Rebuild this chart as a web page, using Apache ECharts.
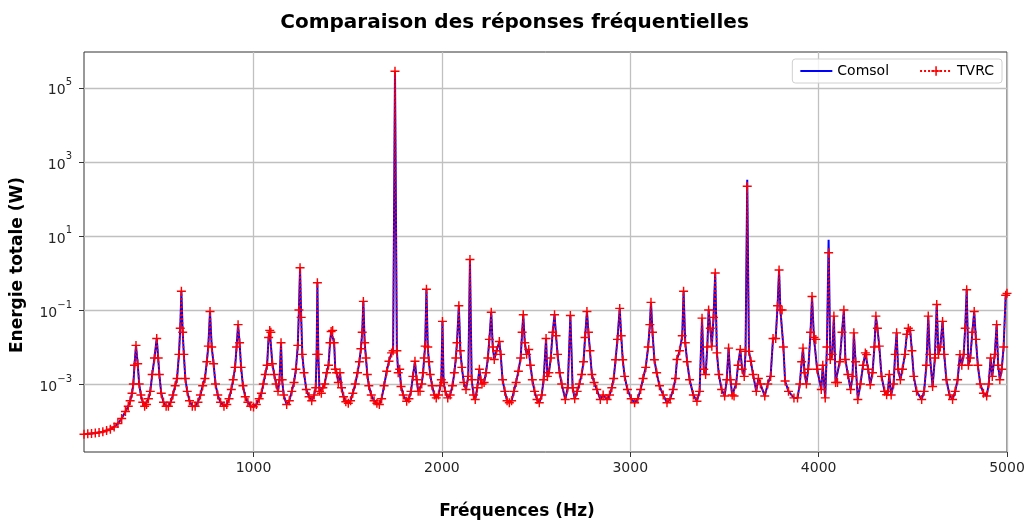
<!doctype html>
<html lang="fr">
<head>
<meta charset="UTF-8">
<title>Comparaison des réponses fréquentielles</title>
<script src="https://cdn.jsdelivr.net/npm/echarts@6/dist/echarts.min.js"></script>
<style>
    html, body { margin: 0; padding: 0; background: #fff; }
    #main { width: 1029px; height: 522px; }
</style>
</head>
<body>
<div id="main"></div>
<script>
    // frequencies (Hz)
    var freqs = [
        100, 120, 140, 160, 180, 200, 220, 240, 260, 280, 300, 320, 335, 345, 355, 362, 368, 376, 385, 393,
        402, 412, 422, 432, 442, 452, 462, 474, 486, 494, 500, 510, 522, 536, 548, 560, 572, 584, 594, 604,
        611, 617, 624, 630, 638, 648, 660, 675, 690, 705, 718, 730, 742, 752, 760, 769, 778, 788, 798, 810,
        825, 843, 858, 870, 882, 892, 902, 910, 918, 926, 934, 944, 956, 970, 985, 1000, 1015, 1030, 1042, 1052,
        1062, 1072, 1080, 1086, 1092, 1100, 1110, 1120, 1130, 1138, 1146, 1152, 1160, 1176, 1190, 1203, 1215, 1225, 1235, 1241,
        1247, 1253, 1259, 1268, 1280, 1295, 1309, 1322, 1330, 1335, 1339, 1344, 1350, 1360, 1368, 1378, 1388, 1398, 1406, 1412,
        1420, 1428, 1434, 1441, 1450, 1459, 1467, 1478, 1490, 1503, 1515, 1527, 1540, 1552, 1562, 1570, 1577, 1583, 1590, 1597,
        1604, 1612, 1625, 1640, 1655, 1668, 1680, 1693, 1707, 1719, 1733, 1741, 1751, 1761, 1768, 1776, 1783, 1795, 1813, 1825,
        1836, 1846, 1857, 1866, 1874, 1884, 1893, 1900, 1906, 1911, 1918, 1925, 1931, 1938, 1948, 1960, 1970, 1982, 1992, 1997,
        2003, 2009, 2018, 2031, 2044, 2056, 2066, 2074, 2080, 2090, 2098, 2106, 2116, 2128, 2140, 2149, 2158, 2168, 2177, 2188,
        2199, 2206, 2213, 2224, 2234, 2244, 2252, 2262, 2270, 2278, 2290, 2305, 2312, 2322, 2334, 2346, 2358, 2370, 2382, 2394,
        2406, 2418, 2426, 2432, 2440, 2450, 2461, 2470, 2480, 2492, 2505, 2517, 2530, 2540, 2553, 2560, 2568, 2578, 2588, 2598,
        2606, 2614, 2625, 2636, 2655, 2668, 2682, 2694, 2705, 2718, 2730, 2742, 2752, 2760, 2770, 2778, 2786, 2796, 2808, 2822,
        2841, 2856, 2877, 2890, 2902, 2912, 2922, 2932, 2944, 2952, 2960, 2970, 2985, 3005, 3023, 3040, 3055, 3068, 3082, 3095,
        3104, 3110, 3118, 3128, 3140, 3155, 3175, 3195, 3212, 3228, 3240, 3248, 3262, 3276, 3283, 3292, 3302, 3315, 3335, 3354,
        3368, 3381, 3390, 3400, 3409, 3416, 3425, 3433, 3442, 3451, 3460, 3470, 3485, 3501, 3512, 3522, 3532, 3541, 3551, 3562,
        3572, 3584, 3594, 3605, 3612, 3621, 3630, 3640, 3652, 3669, 3680, 3691, 3714, 3730, 3745, 3758, 3772, 3782, 3790, 3797,
        3806, 3813, 3822, 3840, 3869, 3888, 3900, 3910, 3917, 3925, 3935, 3945, 3957, 3965, 3975, 3985, 3992, 4014, 4022, 4035,
        4044, 4053, 4062, 4072, 4081, 4090, 4100, 4112, 4124, 4134, 4142, 4155, 4170, 4180, 4187, 4196, 4208, 4222, 4236, 4248,
        4255, 4263, 4274, 4286, 4296, 4304, 4312, 4322, 4334, 4350, 4361, 4368, 4375, 4385, 4398, 4406, 4414, 4422, 4434, 4445,
        4458, 4468, 4476, 4486, 4495, 4505, 4520, 4547, 4560, 4572, 4582, 4590, 4605, 4617, 4627, 4636, 4646, 4658, 4667, 4678,
        4695, 4711, 4725, 4738, 4750, 4760, 4770, 4778, 4786, 4795, 4805, 4816, 4826, 4835, 4845, 4858, 4875, 4892, 4903, 4913,
        4922, 4935, 4945, 4953, 4962, 4972, 4982, 4993, 5000
    ];

    // Comsol energy (W), same order as freqs
    var comsol = [
        4.4e-5, 4.5e-5, 4.6e-5, 4.7e-5, 4.9e-5, 5.1e-5, 5.5e-5, 6.0e-5, 6.9e-5, 8.5e-5, 1.17e-4, 1.8e-4, 2.5e-4, 3.5e-4, 5.6e-4, 1.0e-3, 3.2e-3, 1.1e-2, 3.5e-3, 1.0e-3,
        5.0e-4, 3.2e-4, 2.5e-4, 2.8e-4, 4.0e-4, 6.3e-4, 1.8e-3, 5.0e-3, 1.7e-2, 5.0e-3, 1.8e-3, 5.6e-4, 3.2e-4, 2.5e-4, 2.5e-4, 3.2e-4, 5.0e-4, 8.9e-4, 1.4e-3, 6.3e-3,
        3.2e-2, 0.32, 2.5e-2, 6.3e-3, 1.4e-3, 6.3e-4, 3.5e-4, 2.5e-4, 2.5e-4, 3.2e-4, 5.0e-4, 8.9e-4, 1.4e-3, 4.0e-3, 1.05e-2, 9.1e-2, 1.0e-2, 3.5e-3, 1.0e-3, 5.0e-4,
        3.2e-4, 2.5e-4, 2.8e-4, 4.0e-4, 7.1e-4, 1.3e-3, 2.8e-3, 1.0e-2, 4.0e-2, 1.3e-2, 2.8e-3, 8.9e-4, 4.5e-4, 3.2e-4, 2.5e-4, 2.4e-4, 2.8e-4, 4.0e-4, 5.6e-4, 1.0e-3,
        1.8e-3, 3.2e-3, 1.8e-2, 2.8e-2, 2.5e-2, 3.5e-3, 1.8e-3, 1.0e-3, 6.3e-4, 1.3e-3, 1.3e-2, 1.3e-3, 5.0e-4, 2.8e-4, 3.5e-4, 6.3e-4, 1.1e-3, 2.5e-3, 1.1e-2, 0.1,
        1.38, 6.3e-2, 6.3e-3, 2.0e-3, 7.1e-4, 4.5e-4, 3.5e-4, 5.0e-4, 7.9e-4, 6.3e-3, 0.54, 6.3e-3, 6.3e-4, 5.6e-4, 7.9e-4, 1.0e-3, 2.0e-3, 3.2e-3, 1.3e-2, 2.6e-2,
        2.8e-2, 1.3e-2, 2.5e-3, 2.0e-3, 1.1e-3, 2.0e-3, 7.9e-4, 4.5e-4, 3.3e-4, 3.0e-4, 3.5e-4, 5.6e-4, 1.0e-3, 2.0e-3, 4.0e-3, 8.9e-3, 2.5e-2, 0.17, 1.3e-2, 5.0e-3,
        1.8e-3, 8.9e-4, 5.0e-4, 3.5e-4, 3.0e-4, 2.8e-4, 4.0e-4, 8.9e-4, 2.2e-3, 4.1e-3, 6.9e-3, 7.9e-3, 2.8e5, 7.9e-3, 2.0e-3, 2.5e-3, 8.5e-4, 5.0e-4, 3.4e-4, 4.0e-4,
        6.3e-4, 1.6e-3, 4.1e-3, 1.3e-3, 6.3e-4, 6.3e-4, 1.0e-3, 2.0e-3, 5.0e-3, 1.05e-2, 0.36, 1.0e-2, 4.0e-3, 1.8e-3, 8.9e-4, 5.0e-4, 4.2e-4, 5.0e-4, 8.9e-4, 1.3e-3,
        4.9e-2, 1.1e-3, 6.3e-4, 4.2e-4, 5.0e-4, 8.9e-4, 2.0e-3, 5.0e-3, 1.3e-2, 0.13, 7.9e-3, 2.8e-3, 1.1e-3, 7.1e-4, 1.6e-3, 2.3, 1.3e-3, 5.0e-4, 3.8e-4, 7.9e-4,
        2.5e-3, 1.3e-3, 1.0e-3, 1.1e-3, 2.0e-3, 5.0e-3, 1.6e-2, 8.7e-2, 1.0e-2, 4.6e-3, 7.9e-3, 1.4e-2, 6.3e-3, 1.3e-3, 6.3e-4, 3.5e-4, 3.1e-4, 3.5e-4, 6.3e-4, 1.1e-3,
        2.2e-3, 5.0e-3, 2.5e-2, 7.4e-2, 1.3e-2, 6.3e-3, 8.5e-3, 3.2e-3, 1.3e-3, 6.3e-4, 3.8e-4, 3.1e-4, 5.0e-4, 1.3e-3, 1.7e-2, 1.6e-3, 2.0e-3, 5.0e-3, 2.5e-2, 7.4e-2,
        2.0e-2, 6.3e-3, 2.0e-3, 1.0e-3, 3.8e-4, 7.9e-4, 7.1e-2, 7.9e-4, 4.0e-4, 6.3e-4, 1.0e-3, 1.8e-3, 4.0e-3, 1.8e-2, 9.1e-2, 2.5e-2, 7.9e-3, 1.8e-3, 1.1e-3, 7.1e-4,
        3.8e-4, 5.0e-4, 3.8e-4, 5.0e-4, 7.9e-4, 1.4e-3, 4.5e-3, 1.6e-2, 0.11, 2.0e-2, 4.5e-3, 1.6e-3, 7.1e-4, 4.0e-4, 3.1e-4, 4.0e-4, 7.1e-4, 1.4e-3, 2.8e-3, 1.0e-2,
        4.0e-2, 0.16, 2.5e-2, 4.5e-3, 2.0e-3, 8.9e-4, 5.0e-4, 3.1e-4, 4.0e-4, 7.1e-4, 1.4e-3, 4.6e-3, 7.9e-3, 2.0e-2, 0.32, 1.3e-2, 4.0e-3, 1.3e-3, 5.0e-4, 3.4e-4,
        6.3e-4, 6.0e-2, 2.5e-3, 1.8e-3, 1.0e-2, 0.1, 3.2e-2, 1.05e-2, 6.3e-2, 1.0, 6.9e-3, 1.8e-3, 7.1e-4, 4.7e-4, 1.3e-3, 9.3e-3, 1.3e-3, 5.0e-4, 4.7e-4, 1.0e-3,
        3.2e-3, 8.5e-3, 2.5e-3, 1.6e-3, 7.6e-3, 330, 7.6e-3, 4.1e-3, 1.8e-3, 6.3e-4, 1.4e-3, 1.0e-3, 4.7e-4, 1.0e-3, 1.6e-3, 1.7e-2, 1.7e-2, 0.13, 1.2, 0.1,
        0.1, 1.0e-2, 1.2e-3, 6.3e-4, 4.2e-4, 4.2e-4, 1.0e-3, 4.0e-3, 9.3e-3, 2.0e-3, 1.0e-3, 2.5e-3, 2.5e-2, 0.23, 1.8e-2, 1.6e-2, 2.5e-3, 7.1e-4, 3.2e-3, 4.2e-4,
        1.0e-2, 7.9, 4.6e-3, 6.3e-3, 6.8e-2, 1.1e-3, 1.1e-3, 4.0e-3, 2.5e-2, 0.1, 4.6e-3, 1.8e-3, 7.1e-4, 1.6e-3, 2.4e-2, 4.0e-3, 3.8e-4, 1.0e-3, 3.2e-3, 6.9e-3,
        6.2e-3, 2.5e-3, 9.5e-4, 2.0e-3, 1.0e-2, 6.8e-2, 3.2e-2, 1.05e-2, 1.6e-3, 6.3e-4, 5.1e-4, 6.3e-4, 1.8e-3, 5.0e-4, 1.0e-3, 6.3e-3, 2.4e-2, 2.5e-3, 1.3e-3, 2.5e-3,
        6.3e-3, 2.2e-2, 3.2e-2, 2.8e-2, 7.9e-3, 1.6e-3, 6.3e-4, 3.8e-4, 6.3e-4, 3.2e-3, 6.8e-2, 6.3e-3, 8.5e-4, 5.0e-3, 0.14, 6.3e-3, 1.0e-2, 4.9e-2, 6.3e-3, 1.3e-3,
        5.0e-4, 3.8e-4, 6.3e-4, 1.3e-3, 6.2e-3, 3.2e-3, 6.3e-3, 3.2e-2, 0.35, 3.2e-3, 5.0e-3, 2.5e-2, 9.1e-2, 1.6e-2, 3.2e-3, 1.0e-3, 5.6e-4, 4.7e-4, 1.0e-3, 5.0e-3,
        1.6e-3, 6.3e-3, 4.0e-2, 3.2e-3, 1.3e-3, 2.5e-3, 1.0e-2, 0.25, 0.28
    ];

    // TVRC follows Comsol except at the two peaks where it stays lower
    var tvrcPeaks = [[3621, 220], [4053, 3.5]];

    var xTicks = [1000, 2000, 3000, 4000, 5000];
    var yTicks = [1e-3, 1e-1, 1e1, 1e3, 1e5];

    var font = 'DejaVu Sans';
    var plusPath = 'path://M4.2,0 H5.8 V4.2 H10 V5.8 H5.8 V10 H4.2 V5.8 H0 V4.2 H4.2 Z';
    var linePath = 'path://M0,0 H32 V2 H0 Z';

    var comsolData = [];
    var tvrcData = [];
    for (var i = 0; i < freqs.length; i++) {
        comsolData.push([freqs[i], comsol[i]]);
        var v = comsol[i];
        for (var k = 0; k < tvrcPeaks.length; k++) {
            if (tvrcPeaks[k][0] == freqs[i]) v = tvrcPeaks[k][1];
        }
        tvrcData.push([freqs[i], v]);
    }

    function powLabel(value) {
        var e = Math.round(Math.log(value) / Math.LN10);
        var s = e < 0 ? '\u2212' + (-e) : '' + e;
        return '{b|10}{s|' + s + '}';
    }

    var myChart = echarts.init(document.getElementById('main'), null, {renderer: 'canvas'});
    var option = {
        animation: false,
        backgroundColor: '#ffffff',
        title: {
            text: 'Comparaison des réponses fréquentielles',
            left: 'center',
            top: 8,
            textStyle: {fontFamily: font, fontSize: 20, fontWeight: 'bold', color: '#000'}
        },
        legend: {
            right: 27,
            top: 59,
            padding: [5, 8, 5, 8],
            itemWidth: 32,
            itemHeight: 12,
            itemGap: 30,
            borderColor: '#d0d0d0',
            borderWidth: 1,
            borderRadius: 3,
            backgroundColor: 'rgba(255,255,255,0.8)',
            textStyle: {fontFamily: font, fontSize: 14, color: '#000'},
            data: [{name: 'Comsol', icon: linePath}, {name: 'TVRC'}]
        },
        grid: {
            left: 84, right: 22, top: 52, bottom: 70,
            show: true,
            borderColor: '#333',
            borderWidth: 1,
            containLabel: false,
            outerBoundsMode: 'none'
        },
        xAxis: {
            type: 'value',
            min: 100,
            max: 5000,
            name: 'Fréquences (Hz)',
            nameLocation: 'middle',
            nameGap: 51,
            nameTextStyle: {fontFamily: font, fontSize: 17, fontWeight: 'bold', color: '#000', padding: [0, 57, 0, 0]},
            axisLine: {show: false},
            axisTick: {show: true, length: 5, inside: false, customValues: xTicks, lineStyle: {color: '#333'}},
            axisLabel: {
                customValues: xTicks,
                formatter: function (v) { return String(v); },
                fontFamily: font, fontSize: 14, color: '#262626', margin: 9
            },
            splitLine: {show: true, lineStyle: {color: '#c0c0c0', width: 1.3}}
        },
        yAxis: {
            type: 'log',
            logBase: 10,
            min: 1.45e-5,
            max: 9.3e5,
            name: 'Energie totale (W)',
            nameLocation: 'middle',
            nameGap: 58,
            nameRotate: 90,
            nameTextStyle: {fontFamily: font, fontSize: 17, fontWeight: 'bold', color: '#000', padding: [0, 26, 0, 0]},
            axisLine: {show: false},
            axisTick: {show: true, length: 5, inside: false, customValues: yTicks, lineStyle: {color: '#333'}},
            axisLabel: {
                customValues: yTicks,
                margin: 12,
                formatter: powLabel,
                rich: {
                    b: {fontFamily: font, fontSize: 14, color: '#262626', lineHeight: 20, verticalAlign: 'bottom'},
                    s: {fontFamily: font, fontSize: 10, color: '#262626', lineHeight: 20, verticalAlign: 'top'}
                }
            },
            splitLine: {show: true, lineStyle: {color: '#c0c0c0', width: 1.3}}
        },
        series: [
            {
                name: 'Comsol',
                type: 'line',
                data: comsolData,
                showSymbol: false,
                symbol: 'none',
                lineStyle: {color: '#0000ff', width: 2},
                itemStyle: {color: '#0000ff'},
                z: 2
            },
            {
                name: 'TVRC',
                type: 'line',
                data: tvrcData,
                symbol: plusPath,
                symbolSize: 9,
                lineStyle: {color: '#ff0000', width: 1.6, type: [2, 2]},
                itemStyle: {color: '#ff0000'},
                z: 3
            }
        ]
    };
    myChart.setOption(option);
</script>
</body>
</html>
